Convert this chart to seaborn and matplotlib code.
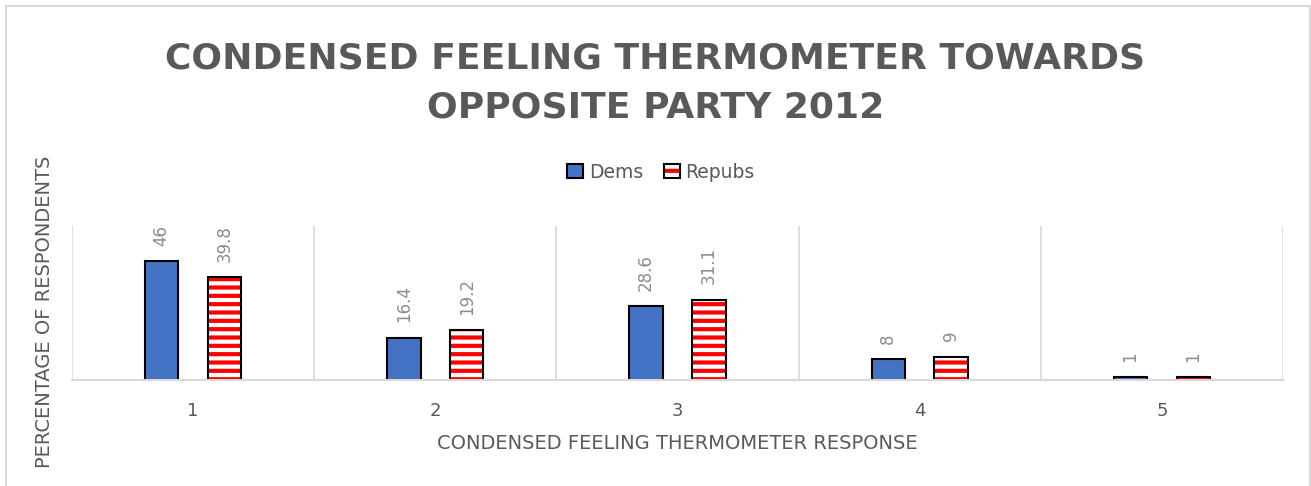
import matplotlib

matplotlib.use("Agg")
import matplotlib.patches as mpatches
import matplotlib.pyplot as plt
import pandas as pd
import seaborn as sns
from matplotlib.legend_handler import HandlerTuple

categories = ["1", "2", "3", "4", "5"]
dems = [46, 16.4, 28.6, 8, 1]
repubs = [39.8, 19.2, 31.1, 9, 1]
value_labels = {"Dems": ["46", "16.4", "28.6", "8", "1"], "Repubs": ["39.8", "19.2", "31.1", "9", "1"]}

TEXT = "#595959"
GRID = "#d9d9d9"
BLUE = "#4472C4"
RED = "#FF0000"

df = pd.DataFrame(
    {
        "response": categories * 2,
        "party": ["Dems"] * len(dems) + ["Repubs"] * len(repubs),
        "pct": dems + repubs,
    }
)

sns.set_theme(style="white")
plt.rcParams["font.family"] = ["DejaVu Sans"]
plt.rcParams["hatch.linewidth"] = 3.0

fig = plt.figure(figsize=(13.11, 4.86), dpi=100)
ax = fig.add_axes([72 / 1311, 106 / 486, 1211 / 1311, 154 / 486])

sns.barplot(
    data=df,
    x="response",
    y="pct",
    hue="party",
    palette={"Dems": BLUE, "Repubs": "white"},
    saturation=1,
    width=0.52,
    gap=0.47,
    edgecolor="black",
    linewidth=1.5,
    legend=False,
    ax=ax,
)

# hatch colour follows the edge colour, so stripe in red and redraw the black outline on top
for bar in ax.containers[1]:
    bar.set_hatch("--")
    bar.set_edgecolor(RED)
    bar.set_linewidth(0)
    outline = mpatches.Rectangle(bar.get_xy(), bar.get_width(), bar.get_height(), fill=False,
                                 edgecolor="black", linewidth=1.5, zorder=bar.get_zorder() + 0.1)
    ax.add_patch(outline)

for cont, party in zip(ax.containers, ["Dems", "Repubs"]):
    ax.bar_label(cont, labels=value_labels[party], rotation=90, padding=11, color="#8c8c8c", fontsize=12)

ax.set_xlim(-0.5, 4.5)
ax.set_ylim(0, 59.5)
for x in [-0.5, 0.5, 1.5, 2.5, 3.5, 4.5]:
    ax.axvline(x, color=GRID, lw=1.2, zorder=0)
for side in ["top", "right", "left"]:
    ax.spines[side].set_visible(False)
ax.spines["bottom"].set_color(GRID)
ax.spines["bottom"].set_linewidth(1.5)
ax.set_yticks([])
ax.tick_params(axis="x", length=0, pad=16, labelsize=13, labelcolor=TEXT)
ax.set_xlabel("CONDENSED FEELING THERMOMETER RESPONSE", fontsize=14, color=TEXT, labelpad=10)
ax.set_ylabel("")

fig.text(45 / 1311, 1 - 312 / 486, "PERCENTAGE OF RESPONDENTS", rotation=90, ha="center", va="center",
         fontsize=14, color=TEXT)

fig.text(0.5, 1 - 83 / 486, "CONDENSED FEELING THERMOMETER TOWARDS\nOPPOSITE PARTY 2012", ha="center", va="center",
         fontsize=26, fontweight="bold", color=TEXT, linespacing=1.55)

dem_patch = mpatches.Patch(facecolor=BLUE, edgecolor="black", linewidth=1.5)
rep_fill = mpatches.Patch(facecolor="white", edgecolor=RED, linewidth=0, hatch="--")
rep_edge = mpatches.Patch(fill=False, edgecolor="black", linewidth=1.5)
fig.legend(handles=[dem_patch, (rep_fill, rep_edge)], labels=["Dems", "Repubs"],
           handler_map={tuple: HandlerTuple(ndivide=1)},
           loc="center", bbox_to_anchor=(661 / 1311, 1 - 172 / 486), ncol=2,
           frameon=False, fontsize=13.5, labelcolor=TEXT, handlelength=0.85, handleheight=0.85,
           handletextpad=0.3, columnspacing=1.1)

fig.patches.append(mpatches.Rectangle((6 / 1311, -0.05), 1304 / 1311, 1.05 - 6 / 486, transform=fig.transFigure,
                                      fill=False, edgecolor=GRID, linewidth=1.5))

fig.savefig("out.png", dpi=100)
